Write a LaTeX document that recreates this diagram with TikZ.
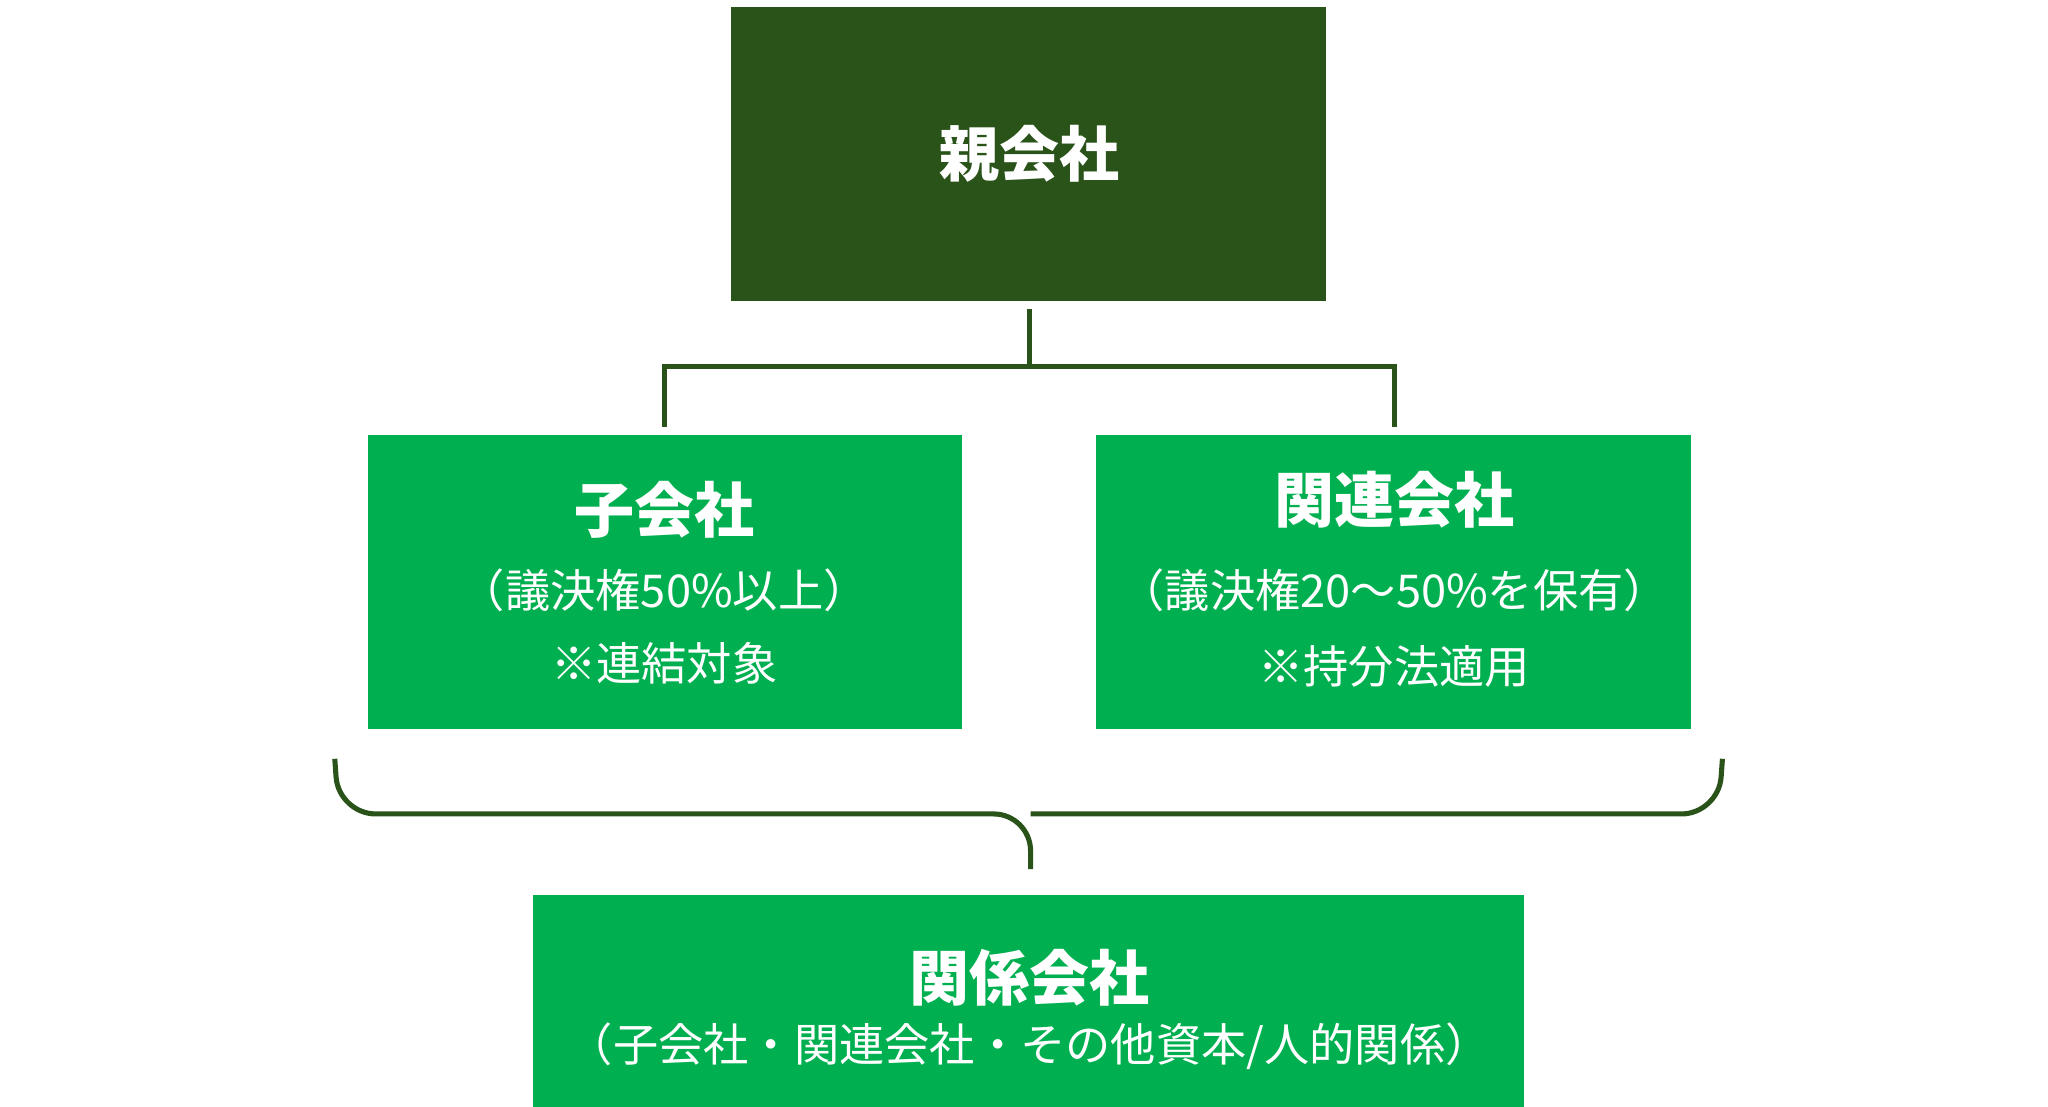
\documentclass[tikz,border=0pt]{standalone}
\usepackage{fontspec}
\setmainfont{Noto Sans CJK JP}
\begin{document}
\begin{tikzpicture}[x=0.01cm,y=-0.01cm,
  dark/.style={fill={rgb,255:red,42;green,83;blue,26},draw=none},
  light/.style={fill={rgb,255:red,0;green,176;blue,80},draw=none},
  conn/.style={draw={rgb,255:red,42;green,83;blue,26},line width=1.1pt},
  ttl/.style={text=white,font=\fontsize{13}{15}\selectfont\bfseries},
  sub/.style={text=white,font=\fontsize{9.8}{12}\selectfont}]
\useasboundingbox (0,0) rectangle (1560,843);
\fill[dark] (557,5) rectangle (1010,229);
\node[ttl] (p) at (784,117) {親会社};
\fill[light] (280,331) rectangle (733,555);
\node[ttl] (c) at (506,388) {子会社};
\node[sub] (c2) at (506,450) {（議決権50\%以上）};
\node[sub] (c3) at (506,505) {※連結対象};
\fill[light] (835,331) rectangle (1288,555);
\node[ttl] (a) at (1062,381) {関連会社};
\node[sub] (a2) at (1062,450) {（議決権20～50\%を保有）};
\node[sub] (a3) at (1062,508) {※持分法適用};
\fill[light] (406,682) rectangle (1161,850);
\node[ttl] (r) at (784,745) {関係会社};
\node[sub] (r2) at (784,797) {（子会社・関連会社・その他資本/人的関係）};
\coordinate (t) at (784,235);
\coordinate (tl) at (506,325);
\coordinate (tr) at (1062,325);
\draw[conn] (t) -- (784,279);
\draw[conn] (tl) -- (506,279) -- (1062,279) -- (tr);
\draw[conn,rounded corners=8pt] (255,578) -- (258,620) -- (785,620) -- (785,662);
\draw[conn,rounded corners=8pt] (1312,578) -- (1309,620) -- (785,620);
\end{tikzpicture}
\end{document}
